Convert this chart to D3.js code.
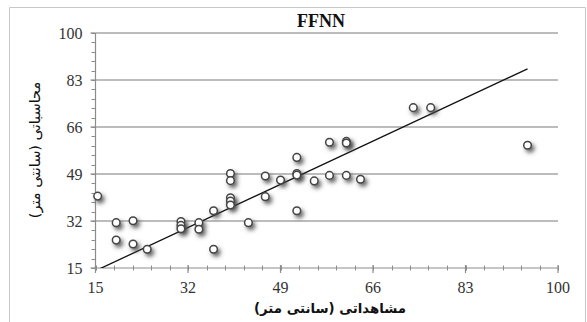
<!DOCTYPE html>
<html>
<head>
<meta charset="utf-8">
<script src="https://cdn.jsdelivr.net/npm/d3@7"></script>
<style>
  html, body { margin: 0; padding: 0; background: #fff; }
  svg { display: block; }
</style>
</head>
<body>
<svg id="chart" width="587" height="322"></svg>
<script>
// Observed vs computed values (cm)
const observed = [
  15.4, 18.8, 21.9, 18.8, 21.9, 24.5, 30.7, 30.7, 30.7, 34.0, 34.0, 36.7,
  36.7, 39.8, 39.8, 39.8, 39.8, 39.8, 43.1, 46.2, 46.2, 49.0, 52.0, 52.0,
  52.0, 52.0, 55.2, 58.0, 58.0, 61.1, 61.1, 61.1, 63.7, 73.4, 76.6, 94.4
];
const computed = [
  41.0, 31.4, 32.1, 25.1, 23.7, 21.8, 31.8, 30.4, 29.2, 31.4, 29.0, 35.7,
  21.8, 49.2, 46.6, 40.4, 39.2, 37.8, 31.4, 48.3, 40.8, 46.8, 55.0, 49.2,
  48.6, 35.7, 46.5, 60.5, 48.5, 60.8, 60.2, 48.5, 47.1, 73.0, 73.0, 59.4
];
const tickValues = [15, 32, 49, 66, 83, 100];
const trendSlope = 0.92;
const trendIntercept = 0.2;

const chartTitle = "FFNN";
const xTitle = "مشاهداتی (سانتی متر)";
const yTitle = "محاسباتی (سانتی متر)";

const svg = d3.select("#chart");
const plot = { left: 95.5, right: 558, top: 33, bottom: 268 };

const x = d3.scaleLinear().domain([15, 100]).range([plot.left, plot.right]);
const y = d3.scaleLinear().domain([15, 100]).range([plot.bottom, plot.top]);

// outer chart frame
svg.append("path")
  .attr("d", `M9.5,322 V7.5 H585.5 V322`)
  .attr("fill", "none")
  .attr("stroke", "#c8c8c8")
  .attr("stroke-width", 1);

// point shadow
const defs = svg.append("defs");
const f = defs.append("filter").attr("id", "shadow")
  .attr("x", "-150%").attr("y", "-150%").attr("width", "400%").attr("height", "400%");
f.append("feDropShadow")
  .attr("dx", 2.5).attr("dy", 3).attr("stdDeviation", 2)
  .attr("flood-color", "#444").attr("flood-opacity", 0.85);

const clip = defs.append("clipPath").attr("id", "plotclip");
clip.append("rect")
  .attr("x", plot.left).attr("y", plot.top)
  .attr("width", plot.right - plot.left).attr("height", plot.bottom - plot.top);

// horizontal gridlines
const gridY = tickValues.filter(v => v > 15);
svg.append("g").selectAll("line").data(gridY).join("line")
  .attr("x1", plot.left).attr("x2", plot.right)
  .attr("y1", d => y(d)).attr("y2", d => y(d))
  .attr("stroke", "#a6a6a6").attr("stroke-width", 1.5);

// minor ticks every 3.4 units
const minor = d3.range(0, 26).map(i => 15 + i * 3.4).filter(v => v <= 100.01);

// y axis
const yAxis = svg.append("g").attr("transform", `translate(${plot.left},0)`);
yAxis.append("line").attr("y1", plot.top).attr("y2", plot.bottom)
  .attr("stroke", "#8c8c8c").attr("stroke-width", 1.2);
yAxis.selectAll("line.minor").data(minor).join("line").attr("class", "minor")
  .attr("x1", -4).attr("x2", 0)
  .attr("y1", d => Math.round(y(d)) + 0.5).attr("y2", d => Math.round(y(d)) + 0.5)
  .attr("stroke", "#8c8c8c").attr("stroke-width", 1);
yAxis.selectAll("line.major").data(tickValues).join("line").attr("class", "major")
  .attr("x1", -5).attr("x2", 0)
  .attr("y1", d => y(d)).attr("y2", d => y(d))
  .attr("stroke", "#8c8c8c").attr("stroke-width", 1.2);
yAxis.selectAll("text").data(tickValues).join("text")
  .attr("x", -13).attr("y", d => y(d))
  .attr("dy", "0.35em")
  .attr("text-anchor", "end")
  .attr("font-family", "'Liberation Serif', 'Times New Roman', serif")
  .attr("font-size", 16).attr("fill", "#333")
  .text(d => d);

// x axis
const xAxis = svg.append("g").attr("transform", `translate(0,${plot.bottom})`);
xAxis.append("line").attr("x1", plot.left).attr("x2", plot.right)
  .attr("stroke", "#8c8c8c").attr("stroke-width", 1.2);
xAxis.selectAll("line.minor").data(minor).join("line").attr("class", "minor")
  .attr("y1", -2.5).attr("y2", 2.5)
  .attr("x1", d => Math.round(x(d)) + 0.5).attr("x2", d => Math.round(x(d)) + 0.5)
  .attr("stroke", "#8c8c8c").attr("stroke-width", 1);
xAxis.selectAll("line.major").data(tickValues).join("line").attr("class", "major")
  .attr("y1", -3).attr("y2", 5)
  .attr("x1", d => x(d)).attr("x2", d => x(d))
  .attr("stroke", "#8c8c8c").attr("stroke-width", 1.2);
xAxis.selectAll("text").data(tickValues).join("text")
  .attr("x", d => x(d)).attr("y", 25)
  .attr("text-anchor", "middle")
  .attr("font-family", "'Liberation Serif', 'Times New Roman', serif")
  .attr("font-size", 16).attr("fill", "#333")
  .text(d => d);

// trend line, clipped to the plot area
const xs = d3.extent(observed);
const line = d3.line().x(d => x(d)).y(d => y(trendSlope * d + trendIntercept));
svg.append("path")
  .attr("clip-path", "url(#plotclip)")
  .attr("d", line(xs))
  .attr("fill", "none").attr("stroke", "#111").attr("stroke-width", 1.3);

// points
svg.append("g").selectAll("circle").data(observed.map((o, i) => [o, computed[i]])).join("circle")
  .attr("cx", d => x(d[0])).attr("cy", d => y(d[1]))
  .attr("r", 3.8)
  .attr("fill", "#fff")
  .attr("stroke", "#444").attr("stroke-width", 1.5)
  .attr("filter", "url(#shadow)");

// titles
svg.append("text")
  .attr("x", 321).attr("y", 27)
  .attr("text-anchor", "middle")
  .attr("font-family", "'Liberation Serif', 'Times New Roman', serif")
  .attr("font-weight", "bold").attr("font-size", 18).attr("fill", "#111")
  .text(chartTitle);

svg.append("text")
  .attr("x", 330).attr("y", 313)
  .attr("text-anchor", "middle")
  .attr("font-family", "'DejaVu Sans', sans-serif")
  .attr("font-weight", "bold").attr("font-size", 13.3).attr("fill", "#111")
  .text(xTitle);

svg.append("text")
  .attr("transform", "translate(40,150) rotate(-90)")
  .attr("text-anchor", "middle")
  .attr("font-family", "'DejaVu Sans', sans-serif")
  .attr("font-size", 14.5).attr("fill", "#111")
  .text(yTitle);
</script>
</body>
</html>
